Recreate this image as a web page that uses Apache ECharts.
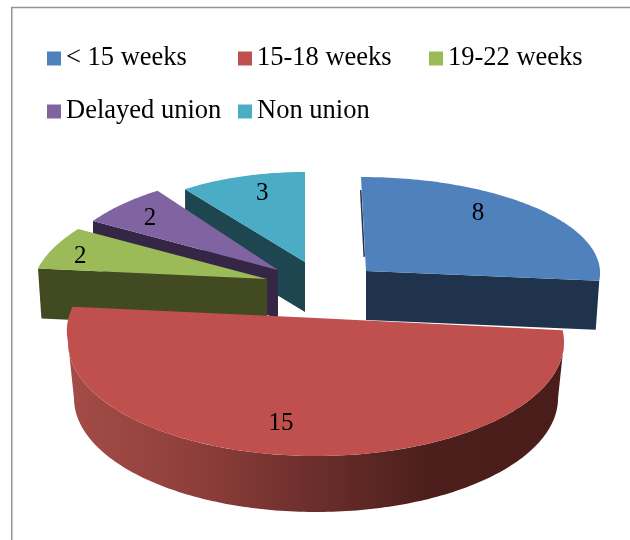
<!DOCTYPE html>
<html>
<head>
<meta charset="utf-8">
<style>html,body{margin:0;padding:0;background:#fff}#c{width:630px;height:540px}</style>
<script src="https://cdn.jsdelivr.net/npm/echarts@6/dist/echarts.min.js"></script>
</head>
<body>
<div id="c"></div>
<script>
const categories = ['< 15 weeks', '15-18 weeks', '19-22 weeks', 'Delayed union', 'Non union'];
const values = [8, 15, 2, 2, 3];
const colors = ['#4F81BD', '#C0504D', '#9BBB59', '#8064A2', '#4BACC6'];
const wallColors = ['#1F334C', null, '#414A20', '#362645', '#1D4651'];

// projection of each exploded slice onto the page (perspective differs per slice)
// ey: ellipse centre y when it differs from the slice tip; stretch: angular perspective about the slice's middle
// tail: extra sideways pull of the rim past its left extreme
const views = [
  {cx:366, cy:271, rx:234, ry:94,  k:5,   depth:49, inset:.985, z:4, face:'end',   lf:[.657,.94]},
  {cx:316, cy:318, rx:248, ry:114, k:0,   depth:56, inset:.976, z:5, face:'arc',   lf:[1.35,.75], ey:342, stretch:1.133, tail:-.42},
  {cx:267, cy:279, rx:233, ry:100, k:-26, depth:50, inset:.985, z:3, face:'start', lf:[.875,.81]},
  {cx:278, cy:270, rx:220, ry:98,  k:-11, depth:48, inset:1,    z:2, face:'start', lf:[.82,.82]},
  {cx:305, cy:262, rx:204, ry:90,  k:0,   depth:50, inset:1,    z:1, face:'start', lf:[.68,.82]}
];
const labelDrop = 2;
const legendSpots = [[47,0],[238,0],[429,0],[47,1],[238,1]];
const FONT = '"Liberation Serif","Times New Roman",serif';

const total = values.reduce((a,b)=>a+b,0);
const starts = values.map((_,i)=>values.slice(0,i).reduce((a,b)=>a+b,0)/total*360);

function edge(v,deg,mid){
  const d=v.stretch?mid+(deg-mid)*v.stretch:deg, t=d*Math.PI/180;
  const pull=v.tail&&d>270?v.tail*(d-270):0;
  return [v.cx+v.rx*Math.sin(t)-v.k*Math.cos(t)+pull, (v.ey||v.cy)-v.ry*Math.cos(t)];
}
function low(v,p){
  return [v.cx+(p[0]-v.cx)*v.inset, p[1]+v.depth];
}
function arc(v,a,b,mid){
  const out=[]; const n=Math.max(2,Math.ceil(Math.abs(b-a)));
  for(let i=0;i<=n;i++) out.push(edge(v,a+(b-a)*i/n,mid));
  return out;
}
function render(i){
  return function(params,api){
    const value=api.value(0), a0=starts[i], a1=a0+value/total*360, v=views[i], mid=(a0+a1)/2;
    const apex=[v.cx,v.cy], kids=[];
    if(v.face==='arc'){
      const s=v.stretch||1, lo=Math.max(a0,mid-(mid-90)/s), hi=Math.min(a1,mid+(270-mid)/s), top=arc(v,lo,hi,mid);
      kids.push({type:'polygon',shape:{points:top.concat(top.map(p=>low(v,p)).reverse())},
        style:{fill:new echarts.graphic.LinearGradient(0,0,1,0,[
          {offset:0,color:'#A44C47'},{offset:.25,color:'#8F3F3B'},{offset:.5,color:'#6B2E2B'},
          {offset:.72,color:'#4C1F1C'},{offset:1,color:'#4A1D1B'}])}});
    } else {
      const e=edge(v,v.face==='start'?a0:a1,mid);
      kids.push({type:'polygon',shape:{points:[apex,e,low(v,e),[apex[0],apex[1]+v.depth]]},style:{fill:wallColors[i]}});
      if(i===0){
        const s=edge(v,a0,mid), m=q=>[s[0]+(apex[0]-s[0])*q-1, s[1]+(apex[1]-s[1])*q];
        kids.push({type:'line',shape:{x1:m(.14)[0],y1:m(.14)[1],x2:m(.85)[0],y2:m(.85)[1]},style:{stroke:wallColors[0],lineWidth:1.5}});
      }
    }
    kids.push({type:'polygon',shape:{points:[apex].concat(arc(v,a0,a1,mid))},style:{fill:api.visual('color')}});
    const m=edge(v,mid,mid);
    kids.push({type:'text',style:{text:String(value),
      x:apex[0]+(m[0]-apex[0])*v.lf[0], y:apex[1]+(m[1]-apex[1])*v.lf[1]+labelDrop,
      align:'center',verticalAlign:'middle',font:'25px '+FONT,fill:'#000'}});
    return {type:'group',children:kids};
  };
}

const chart=echarts.init(document.getElementById('c'),null,{renderer:'canvas'});
chart.setOption({
  animation:false,
  backgroundColor:'#fff',
  color:colors,
  graphic:[{type:'rect',shape:{x:11.75,y:7.5,width:700,height:600},style:{fill:'none',stroke:'#949494',lineWidth:1.5},silent:true}],
  legend:categories.map((name,i)=>({
    data:[name],selectedMode:false,left:legendSpots[i][0],top:45+legendSpots[i][1]*53,
    icon:'rect',itemWidth:14,itemHeight:14,padding:0,
    textStyle:{fontFamily:FONT,fontSize:26.5,color:'#000'}
  })),
  series:categories.map((name,i)=>({
    type:'custom',name,coordinateSystem:'none',z:views[i].z,
    itemStyle:{color:colors[i]},data:[[values[i]]],renderItem:render(i),silent:true
  }))
});
</script>
</body>
</html>
